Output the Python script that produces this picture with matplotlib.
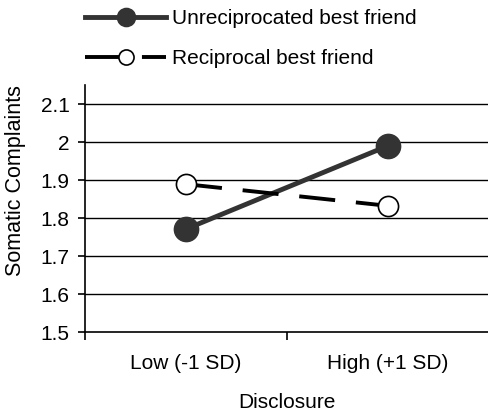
import matplotlib
matplotlib.use("Agg")
import matplotlib.pyplot as plt

plt.rcParams['font.family'] = ['Liberation Sans', 'DejaVu Sans']
plt.rcParams['lines.scale_dashes'] = False

categories = ["Low (-1 SD)", "High (+1 SD)"]
unrecip = [1.771, 1.99]
recip = [1.889, 1.832]
yticks = [1.5, 1.6, 1.7, 1.8, 1.9, 2.0, 2.1]
ytick_labels = ["1.5", "1.6", "1.7", "1.8", "1.9", "2", "2.1"]

W, H = 489, 419
FS = 15
fig = plt.figure(figsize=(W/100, H/100), dpi=100)
ax = fig.add_axes([85/W, 1-332/H, 1-85/W, (332-85)/H])

xpos = [0.5, 1.5]
for y in yticks[1:]:
    ax.axhline(y, color='black', lw=1.0, zorder=1)

l1, = ax.plot(xpos, unrecip, color='#333333', lw=3.5, marker='o', ms=17.5,
              markerfacecolor='#333333', markeredgecolor='#333333', zorder=3,
              label="Unreciprocated best friend")
l2, = ax.plot(xpos, recip, color='black', lw=2.8, dashes=(26, 15), marker='o', ms=14.5,
              markerfacecolor='white', markeredgecolor='black', markeredgewidth=1.2,
              zorder=3, label="Reciprocal best friend")

ax.set_xlim(0, 2)
ax.set_ylim(1.5, 1.5 + (332-85)/380)
ax.set_yticks(yticks)
ax.set_yticklabels(ytick_labels)
ax.set_xticks([0, 1, 2])
ax.set_xticklabels([])
ax.set_xticks(xpos, minor=True)
ax.set_xticklabels(categories, minor=True)
ax.tick_params(axis='x', which='minor', length=0, pad=16, labelsize=FS)
ax.tick_params(axis='x', which='major', length=6, width=1.2, direction='out', color='black')
ax.tick_params(axis='y', length=5, width=1.2, direction='out', labelsize=FS, pad=6)

for s in ['top', 'right']:
    ax.spines[s].set_visible(False)
for s in ['left', 'bottom']:
    ax.spines[s].set_linewidth(1.2)
    ax.spines[s].set_color('black')

ax.set_xlabel("Disclosure", fontsize=FS, labelpad=14)
yl = ax.set_ylabel("Somatic Complaints", fontsize=15.5)
ax.yaxis.set_label_coords((26-85)/404, (332-181)/247)

leg = fig.legend(handles=[l1, l2], loc='upper left',
                 bbox_to_anchor=(85/W, 1-9/H),
                 frameon=False, fontsize=FS, handlelength=3.9, handletextpad=0.3,
                 labelspacing=1.0, borderaxespad=0, borderpad=0, markerscale=0.75)

fig.savefig("out.png", dpi=100)
